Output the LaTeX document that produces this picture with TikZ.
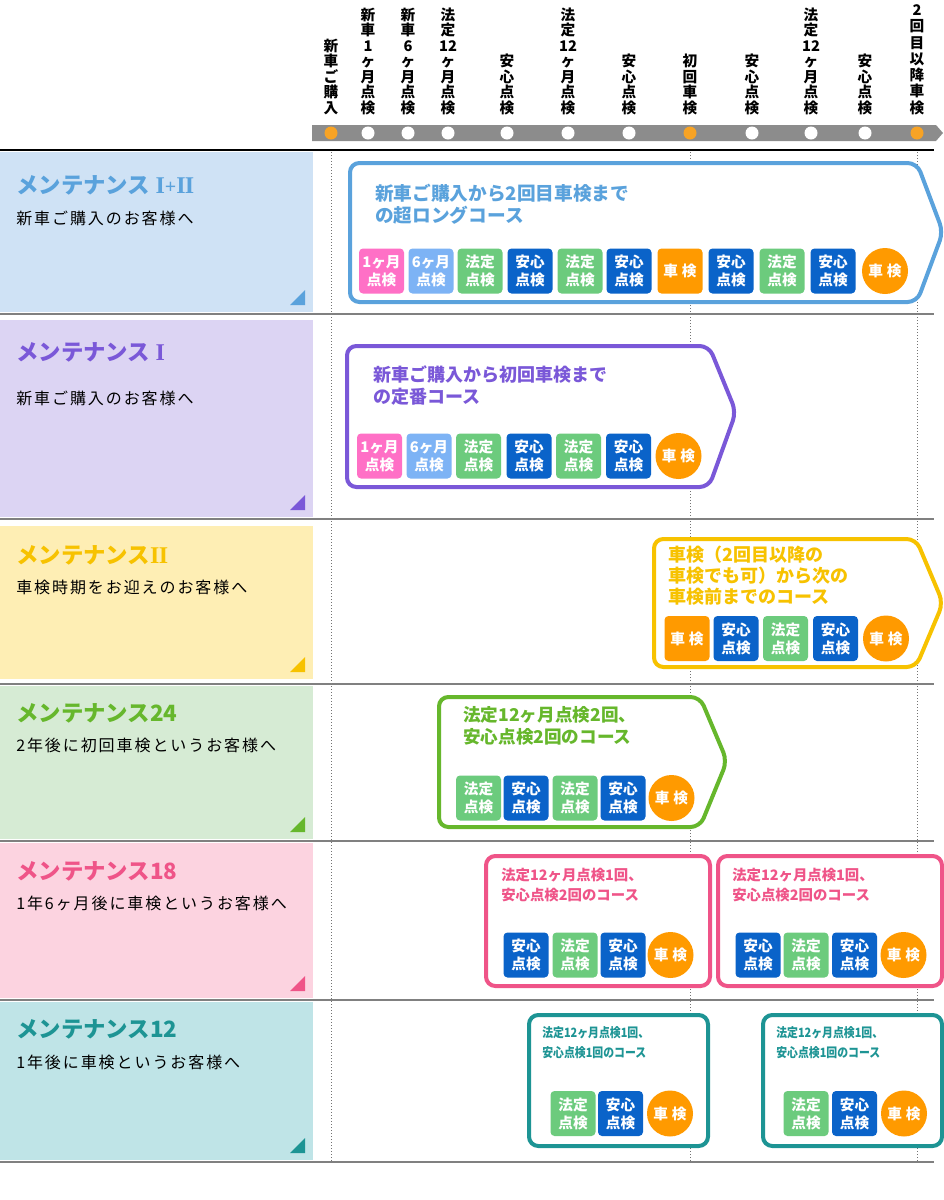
\documentclass[tikz,border=0pt]{standalone}
\usepackage{fontspec}
\setmainfont{Noto Sans CJK JP}
\newfontfamily\romanum{Liberation Serif}
\definecolor{cBlue}{HTML}{5AA2DC}
\definecolor{pBlue}{HTML}{CFE2F5}
\definecolor{cPurple}{HTML}{7A58D8}
\definecolor{pPurple}{HTML}{DCD4F3}
\definecolor{cYellow}{HTML}{F7C200}
\definecolor{pYellow}{HTML}{FEEEB4}
\definecolor{cGreen}{HTML}{66B72C}
\definecolor{pGreen}{HTML}{D6EBD4}
\definecolor{cPink}{HTML}{EF5488}
\definecolor{pPink}{HTML}{FCD3E0}
\definecolor{cTeal}{HTML}{1D9494}
\definecolor{pTeal}{HTML}{BFE4E7}
\definecolor{bPink}{HTML}{FF70C6}
\definecolor{bLight}{HTML}{7DB3F5}
\definecolor{bGreen}{HTML}{6CCB7D}
\definecolor{bBlue}{HTML}{0A63C9}
\definecolor{bOrange}{HTML}{FF9A00}
\definecolor{barGray}{HTML}{8C8C8C}
\definecolor{dotOrange}{HTML}{F7A325}
\definecolor{sepGray}{HTML}{808080}
\newcommand\rnOne{{\romanum\bfseries\fontsize{18}{18}\selectfont I}}
\newcommand\rnTwo{{\romanum\bfseries\fontsize{18}{18}\selectfont I\kern-0.6pt I}}
\newcommand\rnPlus{{\romanum\bfseries\fontsize{15}{18}\selectfont +}}
\newcommand\badgeAn[3]{\node[badge,fill=bBlue] (#1) at (#2,#3) {安心\\点検};}
\newcommand\badgeHo[3]{\node[badge,fill=bGreen] (#1) at (#2,#3) {法定\\点検};}
\newcommand\badgeOne[3]{\node[badge,fill=bPink] (#1) at (#2,#3) {1ヶ月\\点検};}
\newcommand\badgeSix[3]{\node[badge,fill=bLight] (#1) at (#2,#3) {6ヶ月\\点検};}
\newcommand\badgeRe[3]{\node[badge,fill=bOrange] (#1) at (#2,#3) {車\hspace{3pt}検};}
\newcommand\badgeCi[3]{\node[shaken] (#1) at (#2,#3) {車\hspace{3pt}検};}
\begin{document}
\begin{tikzpicture}[x=0.75pt,y=-0.75pt,
  badge/.style={rounded corners=3pt, minimum width=33.75pt, minimum height=33.75pt, inner sep=0pt, text=white, align=center, font=\bfseries\fontsize{11}{13.5}\selectfont},
  shaken/.style={circle, fill=bOrange, minimum size=34.5pt, inner sep=0pt, text=white, font=\bfseries\fontsize{11}{13.5}\selectfont},
  vlab/.style={anchor=south, inner sep=0pt, align=center, font=\bfseries\fontsize{11}{11.6}\selectfont},
  tldot/.style={circle, minimum size=9.75pt, inner sep=0pt},
  ptitle/.style={anchor=west, inner sep=0pt, font=\bfseries\fontsize{16.8}{18}\selectfont},
  psub/.style={anchor=west, inner sep=0pt, font=\fontsize{12}{14}\selectfont\addfontfeature{LetterSpace=12}},
  cbox/.style={line width=3pt, rounded corners=7pt, fill=white},
  ctext/.style={anchor=west, inner sep=0pt, align=left, font=\bfseries\fontsize{13.5}{16.5}\selectfont},
  sep/.style={draw=sepGray, line width=1.1pt},
  vdot/.style={draw=black!55, line width=0.75pt, dash pattern=on 0.75pt off 1.5pt}
]
\useasboundingbox (0,0) rectangle (944,1200);
% ---------- timeline ----------
\fill[barGray] (312,125) -- (936,125) -- (943,133) -- (936,141) -- (312,141) -- cycle;
\node[tldot, fill=dotOrange] (d1) at (331,133) {};
\node[tldot, fill=white] (d2) at (368,133) {};
\node[tldot, fill=white] (d3) at (408,133) {};
\node[tldot, fill=white] (d4) at (448,133) {};
\node[tldot, fill=white] (d5) at (507,133) {};
\node[tldot, fill=white] (d6) at (568,133) {};
\node[tldot, fill=white] (d7) at (629,133) {};
\node[tldot, fill=dotOrange] (d8) at (690,133) {};
\node[tldot, fill=white] (d9) at (752,133) {};
\node[tldot, fill=white] (d10) at (811,133) {};
\node[tldot, fill=white] (d11) at (865,133) {};
\node[tldot, fill=dotOrange] (d12) at (917,133) {};
\node[vlab] (l1) at (331,115) {新\\車\\ご\\購\\入};
\node[vlab] (l2) at (368,115) {新\\車\\1\\ヶ\\月\\点\\検};
\node[vlab] (l3) at (408,115) {新\\車\\6\\ヶ\\月\\点\\検};
\node[vlab] (l4) at (448,115) {法\\定\\12\\ヶ\\月\\点\\検};
\node[vlab] (l5) at (507,115) {安\\心\\点\\検};
\node[vlab] (l6) at (568,115) {法\\定\\12\\ヶ\\月\\点\\検};
\node[vlab] (l7) at (629,115) {安\\心\\点\\検};
\node[vlab] (l8) at (690,115) {初\\回\\車\\検};
\node[vlab] (l9) at (752,115) {安\\心\\点\\検};
\node[vlab] (l10) at (811,115) {法\\定\\12\\ヶ\\月\\点\\検};
\node[vlab] (l11) at (865,115) {安\\心\\点\\検};
\node[vlab, font=\bfseries\fontsize{11}{12.2}\selectfont] (l12) at (917,115) {2\\回\\目\\以\\降\\車\\検};
% ---------- grid ----------
\draw[line width=1.5pt] (0,150) -- (934,150);
\draw[vdot] (331,152) -- (331,1162);
\draw[vdot] (690,152) -- (690,1162);
\draw[vdot] (917,152) -- (917,1162);
\draw[sep] (0,314) -- (934,314);
\draw[sep] (0,519) -- (934,519);
\draw[sep] (0,684) -- (934,684);
\draw[sep] (0,841) -- (934,841);
\draw[sep] (0,1000) -- (934,1000);
\draw[sep] (0,1162) -- (934,1162);
% ---------- left panels ----------
\fill[pBlue] (0,152) rectangle (313,312);
\fill[cBlue] (305,290) -- (305,305) -- (290,305) -- cycle;
\node[ptitle, text=cBlue] (t1) at (16,185) {メンテナンス\hspace{4pt}\rnOne\rnPlus\rnTwo};
\node[psub] (s1) at (16,218) {新車ご購入のお客様へ};
\fill[pPurple] (0,320) rectangle (313,517);
\fill[cPurple] (305,495) -- (305,510) -- (290,510) -- cycle;
\node[ptitle, text=cPurple] (t2) at (16,352) {メンテナンス\hspace{4pt}\rnOne};
\node[psub] (s2) at (16,398) {新車ご購入のお客様へ};
\fill[pYellow] (0,526) rectangle (313,679);
\fill[cYellow] (305,657) -- (305,672) -- (290,672) -- cycle;
\node[ptitle, text=cYellow] (t3) at (16,555) {メンテナンス\rnTwo};
\node[psub] (s3) at (16,587) {車検時期をお迎えのお客様へ};
\fill[pGreen] (0,686) rectangle (313,839);
\fill[cGreen] (305,817) -- (305,832) -- (290,832) -- cycle;
\node[ptitle, text=cGreen] (t4) at (16,713) {メンテナンス24};
\node[psub] (s4) at (16,745) {2年後に初回車検というお客様へ};
\fill[pPink] (0,843) rectangle (313,998);
\fill[cPink] (305,976) -- (305,991) -- (290,991) -- cycle;
\node[ptitle, text=cPink] (t5) at (16,871) {メンテナンス18};
\node[psub] (s5) at (16,903) {1年6ヶ月後に車検というお客様へ};
\fill[pTeal] (0,1002) rectangle (313,1160);
\fill[cTeal] (305,1138) -- (305,1153) -- (290,1153) -- cycle;
\node[ptitle, text=cTeal] (t6) at (16,1029) {メンテナンス12};
\node[psub] (s6) at (16,1062) {1年後に車検というお客様へ};
% ---------- row 1 ----------
\draw[cbox, draw=cBlue] (350,163) -- (917,163) -- (943,232) -- (917,302) -- (350,302) -- cycle;
\node[ctext, text=cBlue, font=\bfseries\fontsize{14}{16.5}\selectfont] (c1) at (375,204) {新車ご購入から2回目車検まで\\の超ロングコース};
\badgeOne{r1a}{381.5}{271}
\badgeSix{r1b}{431}{271}
\badgeHo{r1c}{480}{271}
\badgeAn{r1d}{530}{271}
\badgeHo{r1e}{580}{271}
\badgeAn{r1f}{629}{271}
\badgeRe{r1g}{680}{271}
\badgeAn{r1h}{731}{271}
\badgeHo{r1i}{782}{271}
\badgeAn{r1j}{833}{271}
\badgeCi{r1k}{885}{271}
% ---------- row 2 ----------
\draw[cbox, draw=cPurple] (347,346) -- (709,346) -- (736,412) -- (709,487) -- (347,487) -- cycle;
\node[ctext, text=cPurple] (c2) at (373,385.5) {新車ご購入から初回車検まで\\の定番コース};
\badgeOne{r2a}{379.5}{456}
\badgeSix{r2b}{429}{456}
\badgeHo{r2c}{478.5}{456}
\badgeAn{r2d}{529}{456}
\badgeHo{r2e}{578.5}{456}
\badgeAn{r2f}{628.5}{456}
\badgeCi{r2g}{678.5}{456}
% ---------- row 3 ----------
\draw[cbox, draw=cYellow] (654,539) -- (916,539) -- (943,603) -- (916,667) -- (654,667) -- cycle;
\node[ctext, text=cYellow, font=\bfseries\fontsize{13.5}{15.75}\selectfont] (c3) at (668,576) {車検（2回目以降の\\車検でも可）から次の\\車検前までのコース};
\badgeRe{r3a}{687}{638.5}
\badgeAn{r3b}{736}{638.5}
\badgeHo{r3c}{785.5}{638.5}
\badgeAn{r3d}{835.5}{638.5}
\badgeCi{r3e}{886}{638.5}
% ---------- row 4 ----------
\draw[cbox, draw=cGreen] (439,697) -- (700,697) -- (727,761) -- (700,827) -- (439,827) -- cycle;
\node[ctext, text=cGreen, font=\bfseries\fontsize{13.2}{16.5}\selectfont] (c4) at (463,726) {法定12ヶ月点検2回、\\安心点検2回のコース};
\badgeHo{r4a}{478.5}{798}
\badgeAn{r4b}{526}{798}
\badgeHo{r4c}{575}{798}
\badgeAn{r4d}{623}{798}
\badgeCi{r4e}{671.5}{798}
% ---------- row 5 ----------
\draw[cbox, draw=cPink] (486,856) rectangle (710,986);
\draw[cbox, draw=cPink] (718,856) rectangle (942,986);
\node[ctext, text=cPink, font=\bfseries\fontsize{10.8}{15}\selectfont] (c5a) at (501,885) {法定12ヶ月点検1回、\\安心点検2回のコース};
\node[ctext, text=cPink, font=\bfseries\fontsize{10.8}{15}\selectfont] (c5b) at (732,885) {法定12ヶ月点検1回、\\安心点検2回のコース};
\badgeAn{r5a}{526}{955}
\badgeHo{r5b}{575}{955}
\badgeAn{r5c}{623}{955}
\badgeCi{r5d}{670.5}{955}
\badgeAn{r5e}{758}{955}
\badgeHo{r5f}{806}{955}
\badgeAn{r5g}{854.5}{955}
\badgeCi{r5h}{903.5}{955}
% ---------- row 6 ----------
\draw[cbox, draw=cTeal] (529,1015) rectangle (708,1146);
\draw[cbox, draw=cTeal] (763,1015) rectangle (942,1146);
\node[ctext, text=cTeal, font=\bfseries\fontsize{9.6}{15}\selectfont\addfontfeature{FakeStretch=0.85}] (c6a) at (542,1043) {法定12ヶ月点検1回、\\安心点検1回のコース};
\node[ctext, text=cTeal, font=\bfseries\fontsize{9.6}{15}\selectfont\addfontfeature{FakeStretch=0.85}] (c6b) at (776,1043) {法定12ヶ月点検1回、\\安心点検1回のコース};
\badgeHo{r6a}{573}{1113.5}
\badgeAn{r6b}{620.5}{1113.5}
\badgeCi{r6c}{670}{1113.5}
\badgeHo{r6d}{806}{1113.5}
\badgeAn{r6e}{854.5}{1113.5}
\badgeCi{r6f}{904}{1113.5}
\end{tikzpicture}
\end{document}
